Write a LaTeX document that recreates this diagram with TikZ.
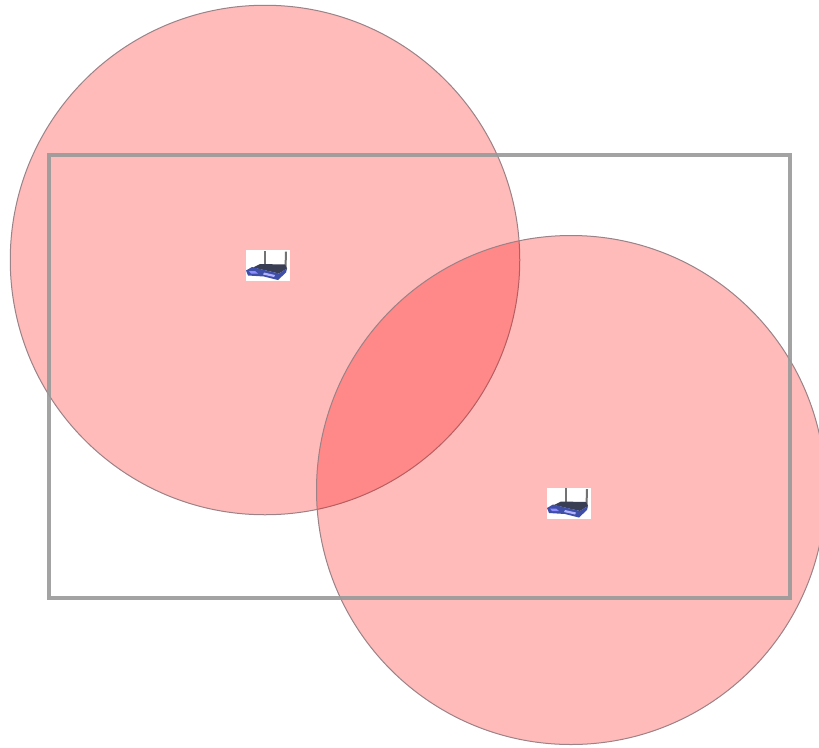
\documentclass[tikz,border=0pt]{standalone}
\definecolor{routerblue}{HTML}{3F4FA8}
\definecolor{routerdark}{HTML}{3A3E55}
\definecolor{rimgrey}{HTML}{9A8286}
\tikzset{
  coverage/.style={circle,minimum size=#1,inner sep=0pt,draw=rimgrey,line width=1pt,fill=red,fill opacity=0.27},
  area/.style={draw=black!40,line width=3.4pt,opacity=0.9,fill=none},
  router/.pic={
    \fill[white] (-22,-15.5) rectangle (22,15.5);
    \fill[black!55] (-4.5,-15) -- (-2.5,-15) -- (-2.5,2) -- (-4.5,2) -- cycle;
    \fill[black!55] (17,-14) -- (19,-14) -- (18.5,3) -- (16.5,3) -- cycle;
    \fill[routerdark] (-15,2) -- (-8,-1.5) -- (17,-1) -- (19,3) -- (11,8) -- cycle;
    \fill[routerblue] (-22,5) -- (-16,1.5) -- (-6,4) -- (11,8) -- (19,3) -- (18,7) -- (10,14.5) -- (-4,11) -- (-20,10) -- cycle;
    \fill[blue!45!white] (-19,5.5) -- (-13,5.5) -- (-10,8) -- (-17,8) -- cycle;
    \fill[blue!30!white] (-4,7) -- (7,9.5) -- (6,11.5) -- (-5,9) -- cycle;
  }
}
\begin{document}
\begin{tikzpicture}[x=1pt,y=-1pt]
\useasboundingbox (0,0) rectangle (819,747);
\node[coverage=509.5pt] (cellA) at (265,260) {};
\node[coverage=509pt] (cellB) at (571,490) {};
\draw[area] (49,155) rectangle (790,598);
\pic at (268,265.5) {router};
\pic at (569,503) {router};
\end{tikzpicture}
\end{document}
